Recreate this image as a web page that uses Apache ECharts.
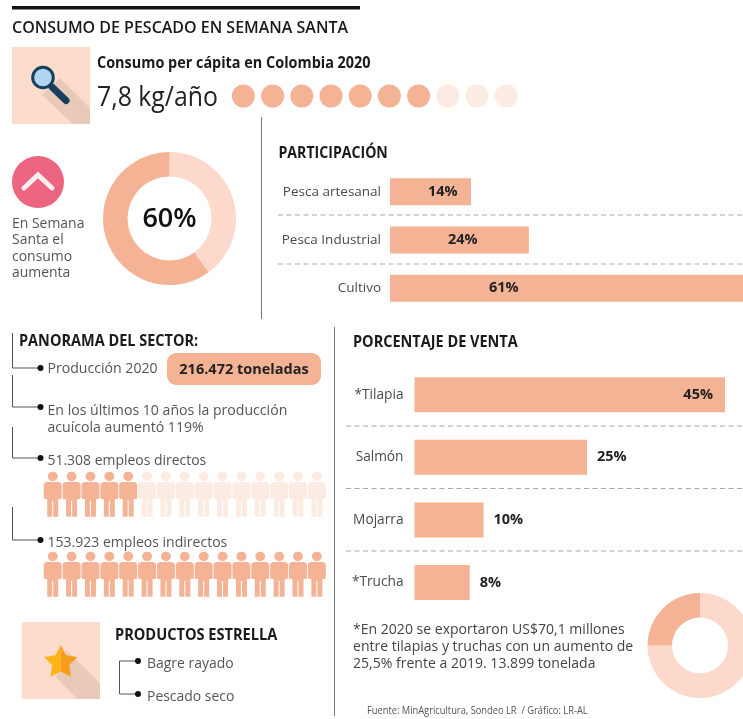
<!DOCTYPE html>
<html>
<head>
<meta charset="utf-8">
<title>Consumo de pescado en Semana Santa</title>
<style>
  html, body { margin: 0; padding: 0; background: #fff; }
  #chart { width: 743px; height: 719px; }
</style>
</head>
<body>
<div id="chart"></div>
<script src="https://cdn.jsdelivr.net/npm/echarts@6/dist/echarts.min.js"></script>
<script>
// datos
const consumoPuntos = [1, 1, 1, 1, 1, 1, 1, 0, 0, 0];
const aumentoDona = [40, 60];
const participacionCat = ['Pesca artesanal', 'Pesca Industrial', 'Cultivo'];
const participacionVal = [14, 24, 61];
const participacionLabelX = [38, 58, 99];
const ventaCat = ['*Tilapia', 'Salmón', 'Mojarra', '*Trucha'];
const ventaVal = [45, 25, 10, 8];
const exportDona = [75, 25];
const empleosDirectos = [1, 1, 1, 1, 1, 0, 0, 0, 0, 0, 0, 0, 0, 0, 0];
const empleosIndirectos = [1, 1, 1, 1, 1, 1, 1, 1, 1, 1, 1, 1, 1, 1, 1];

const OSCURO = '#f5b395';
const CLARO = '#fcd9ca';
const TENUE = '#fcebe2';
const CUADRO = '#fbdccd';
const SOMBRA = '#e9c9b8';
const TEXTO = '#4a4a4a';
const TITULO = '#1a1a1a';
const FUENTE = '"Open Sans", sans-serif';

const PERSONA = 'path://M8.5,0.2a4.7,4.7 0 1,0 0.01,0z M3.5,10.5H13.5Q17,10.5 17,14V26Q17,27.5 15.5,27.5H13.7V45H9V29H8V45H3.3V27.5H1.5Q0,27.5 0,26V14Q0,10.5 3.5,10.5z';

function texto(x, y, str, size, extra) {
  return {
    type: 'text', x: x, y: y, z: 10,
    scaleX: (extra && extra.sx) || 1,
    style: Object.assign({
      text: str, font: (extra && extra.weight || 400) + ' ' + size + 'px ' + FUENTE,
      fill: (extra && extra.color) || TEXTO, lineHeight: extra && extra.lh,
      verticalAlign: 'middle', align: (extra && extra.align) || 'left'
    })
  };
}
function linea(x1, y1, x2, y2, color, dash) {
  return {
    type: 'line', z: 1, silent: true,
    shape: { x1: x1, y1: y1, x2: x2, y2: y2 },
    style: { stroke: color || '#555', lineWidth: 1, lineDash: dash }
  };
}
function rama(x, y1, y2, xDot) {
  return [
    linea(x, y1, x, y2, '#555'),
    linea(x, y2, xDot, y2, '#555'),
    { type: 'circle', z: 3, shape: { cx: xDot, cy: y2, r: 3 }, style: { fill: '#111' } }
  ];
}
function estrella(cx, cy, R, r) {
  const izq = [], der = [];
  for (let i = 0; i <= 10; i++) {
    const rad = i % 2 ? r : R;
    const a = -Math.PI / 2 + i * Math.PI / 5;
    const p = [cx + rad * Math.cos(a), cy + rad * Math.sin(a)];
    if (i <= 5) der.push(p);
    if (i >= 5) izq.push(p);
  }
  return [
    { type: 'polygon', z: 4, shape: { points: izq }, style: { fill: '#fdb515' } },
    { type: 'polygon', z: 4, shape: { points: der }, style: { fill: '#f89c1c' } }
  ];
}

function grillaIconos(top, height) {
  return { left: 43.3, top: top, width: 283, height: height };
}

const grids = [
  { left: 228.8, top: 86, width: 292, height: 20 },
  { left: 390, top: 167.5, width: 357, height: 145 },
  { left: 414.5, top: 363.4, width: 310.5, height: 250.4 },
  grillaIconos(471.7, 45),
  grillaIconos(551.7, 45)
];

function ejeIconos(i, datos) {
  return { gridIndex: i, type: 'category', data: datos.map((d, k) => k), show: false };
}
function ejeOculto(i) {
  return { gridIndex: i, type: 'value', min: 0, max: 2, show: false };
}
function serieIconos(i, datos, symbol, size) {
  return {
    type: 'scatter', xAxisIndex: i, yAxisIndex: i, symbol: symbol, symbolSize: size,
    symbolKeepAspect: false, silent: true,
    data: datos.map(d => ({ value: 1, itemStyle: { color: d ? OSCURO : TENUE, opacity: 1 } }))
  };
}
function ejeCategorias(i, cats, size, margin) {
  return {
    gridIndex: i, type: 'category', inverse: true, data: cats,
    axisLine: { show: false }, axisTick: { show: false },
    axisLabel: { color: TEXTO, fontFamily: FUENTE, fontSize: size, margin: margin, align: 'right', padding: [2, 0, 0, 0] }
  };
}
function ejeValor(i, max) {
  return { gridIndex: i, type: 'value', min: 0, max: max, show: false };
}
function etiqueta(size) {
  return { show: true, fontFamily: FUENTE, fontWeight: 700, fontSize: size, color: '#222', verticalAlign: 'middle', formatter: '{c}%' };
}

const graficos = [
  { type: 'rect', z: 2, shape: { x: 12, y: 6, width: 348, height: 3.4 }, style: { fill: '#111' } },
  texto(12, 28, 'CONSUMO DE PESCADO EN SEMANA SANTA', 17, { weight: 600, color: TITULO, sx: 0.94 }),

  // lupa
  { type: 'rect', z: 1, shape: { x: 12, y: 47, width: 78, height: 77 }, style: { fill: CUADRO } },
  { type: 'polygon', z: 2, shape: { points: [[42, 95], [60, 78], [90, 108], [90, 124], [73, 124]] }, style: { fill: SOMBRA } },
  { type: 'line', z: 3, shape: { x1: 52, y1: 87, x2: 66, y2: 100.5 }, style: { stroke: '#17405f', lineWidth: 7, lineCap: 'round' } },
  { type: 'circle', z: 4, shape: { cx: 43, cy: 77.5, r: 10.3 }, style: { fill: '#b3d3f2', stroke: '#17405f', lineWidth: 3 } },

  texto(97, 64, 'Consumo per cápita en Colombia 2020', 15.5, { weight: 700, color: TITULO, sx: 0.93 }),
  texto(97, 98, '7,8 kg/año', 27, { color: '#222', sx: 0.92 }),

  // aumento
  { type: 'circle', z: 2, shape: { cx: 38, cy: 182, r: 26 }, style: { fill: '#ec6480' } },
  { type: 'polyline', z: 3, shape: { points: [[24, 188], [38, 175], [52, 188]] }, style: { stroke: '#fdeef0', lineWidth: 5, lineCap: 'round', fill: 'none' } },
  texto(12, 248, 'En Semana\nSanta el\nconsumo\naumenta', 15, { lh: 16.5, color: '#555', sx: 0.93 }),
  texto(169.5, 219, '60%', 27, { weight: 600, color: '#111', align: 'center' }),

  linea(261.5, 117, 261.5, 319, '#777'),
  texto(278.5, 154, 'PARTICIPACIÓN', 15.5, { weight: 700, color: TITULO, sx: 0.91 }),
  linea(278, 215, 743, 215, '#aaa', [5, 3.5]),
  linea(278, 264, 743, 264, '#aaa', [5, 3.5]),

  // panorama
  linea(334.5, 327, 334.5, 716, '#777'),
  texto(19, 342, 'PANORAMA DEL SECTOR:', 15.5, { weight: 700, color: TITULO, sx: 0.935 }),
  ...rama(12.5, 333, 368, 40.5),
  ...rama(12.5, 375, 407, 40.5),
  ...rama(12.5, 427, 458, 40.5),
  ...rama(12.5, 507, 540, 40.5),
  texto(47.5, 369, 'Producción 2020', 15, { color: '#555', sx: 0.94 }),
  { type: 'rect', z: 2, shape: { x: 167, y: 353, width: 154, height: 32, r: 9 }, style: { fill: OSCURO } },
  texto(244, 369.5, '216.472 toneladas', 14.5, { weight: 700, color: '#222', align: 'center', sx: 1 }),
  texto(47.5, 419, 'En los últimos 10 años la producción\nacuícola aumentó 119%', 15, { lh: 16.5, color: '#555', sx: 0.94 }),
  texto(47.5, 461, '51.308 empleos directos', 15, { color: '#555', sx: 0.93 }),
  texto(47.5, 542.5, '153.923 empleos indirectos', 15, { color: '#555', sx: 0.935 }),

  // productos estrella
  { type: 'rect', z: 1, shape: { x: 22, y: 622, width: 78, height: 77 }, style: { fill: CUADRO } },
  { type: 'polygon', z: 2, shape: { points: [[56, 677], [66, 650], [100, 683], [100, 699], [77, 699]] }, style: { fill: SOMBRA } },
  ...estrella(60.7, 662.5, 17.5, 9),
  texto(115, 636, 'PRODUCTOS ESTRELLA', 15.5, { weight: 700, color: TITULO, sx: 0.94 }),
  linea(119.5, 661, 119.5, 694, '#555'),
  linea(119.5, 661, 138, 661, '#555'),
  linea(119.5, 694, 138, 694, '#555'),
  { type: 'circle', z: 3, shape: { cx: 138, cy: 661, r: 3 }, style: { fill: '#111' } },
  { type: 'circle', z: 3, shape: { cx: 138, cy: 694, r: 3 }, style: { fill: '#111' } },
  texto(147, 664, 'Bagre rayado', 15, { color: '#555', sx: 0.93 }),
  texto(147, 697, 'Pescado seco', 15, { color: '#555', sx: 0.93 }),

  // venta
  texto(353, 343, 'PORCENTAJE DE VENTA', 15.5, { weight: 700, color: TITULO, sx: 0.935 }),
  linea(346, 426, 743, 426, '#aaa', [5, 3.5]),
  linea(346, 488.5, 743, 488.5, '#aaa', [5, 3.5]),
  linea(346, 551, 743, 551, '#aaa', [5, 3.5]),
  texto(353, 646.5, '*En 2020 se exportaron US$70,1 millones\nentre tilapias y truchas con un aumento de\n25,5% frente a 2019. 13.899 tonelada', 15, { lh: 17, color: '#444', sx: 0.936 }),
  texto(367, 711.5, 'Fuente: MinAgricultura, Sondeo LR  / Gráfico: LR-AL', 10, { color: '#555', sx: 0.93 })
];

const chart = echarts.init(document.getElementById('chart'), null, { renderer: 'canvas' });
chart.setOption({
  animation: false,
  backgroundColor: '#fff',
  grid: grids,
  graphic: graficos,
  xAxis: [
    ejeIconos(0, consumoPuntos),
    ejeValor(1, 61),
    ejeValor(2, 45),
    ejeIconos(3, empleosDirectos),
    ejeIconos(4, empleosIndirectos)
  ],
  yAxis: [
    ejeOculto(0),
    ejeCategorias(1, participacionCat, 13.5, 9),
    ejeCategorias(2, ventaCat, 13.7, 11),
    ejeOculto(3),
    ejeOculto(4)
  ],
  series: [
    serieIconos(0, consumoPuntos, 'circle', 23),
    {
      type: 'bar', xAxisIndex: 1, yAxisIndex: 1, barWidth: 27, silent: true,
      itemStyle: { color: OSCURO },
      data: participacionVal.map((v, i) => ({
        value: v,
        label: Object.assign(etiqueta(14.5), { position: [participacionLabelX[i], 13.5] })
      }))
    },
    {
      type: 'bar', xAxisIndex: 2, yAxisIndex: 2, barWidth: 35, silent: true,
      itemStyle: { color: OSCURO },
      data: ventaVal.map((v, i) => ({
        value: v,
        label: Object.assign(etiqueta(14.5), i === 0
          ? { position: 'insideRight', distance: 12 }
          : { position: 'right', distance: 10 })
      }))
    },
    serieIconos(3, empleosDirectos, PERSONA, [18, 45]),
    serieIconos(4, empleosIndirectos, PERSONA, [18, 45]),
    {
      type: 'pie', center: [169.5, 218.5], radius: [42, 66.5], startAngle: 90, clockwise: true,
      silent: true, label: { show: false }, labelLine: { show: false },
      color: [CLARO, OSCURO],
      data: aumentoDona.map(v => ({ value: v }))
    },
    {
      type: 'pie', center: [700, 645.5], radius: [28, 52.5], startAngle: 90, clockwise: true,
      silent: true, label: { show: false }, labelLine: { show: false },
      color: [CLARO, OSCURO],
      data: exportDona.map(v => ({ value: v }))
    }
  ]
});
</script>
</body>
</html>
